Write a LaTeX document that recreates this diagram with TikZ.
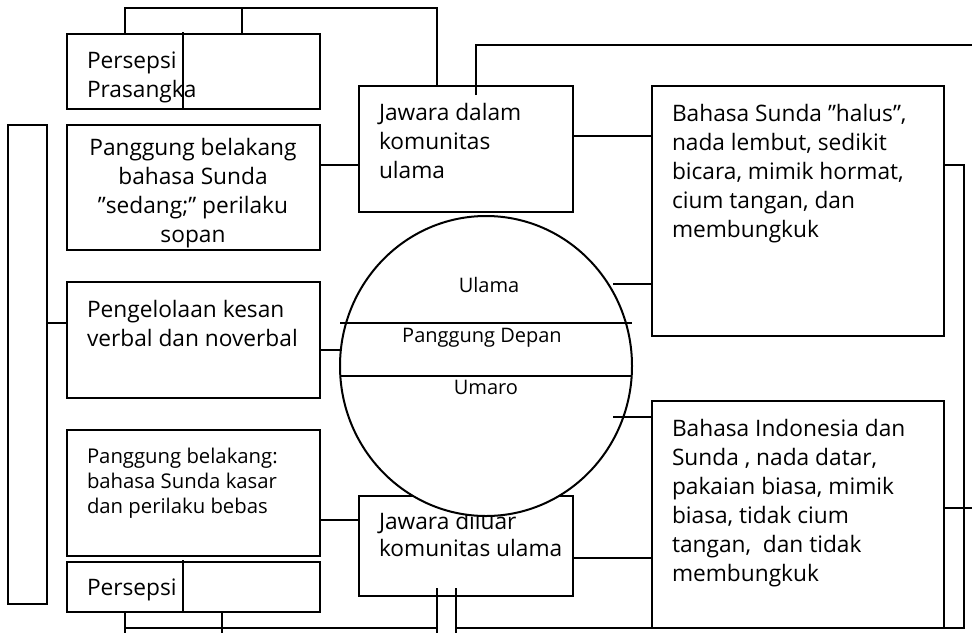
\documentclass[tikz,border=0pt]{standalone}
\usepackage{fontspec}
\setmainfont{Open Sans}
\usetikzlibrary{positioning, calc, shapes.geometric}
\tikzset{
  box/.style={draw, anchor=north west, inner sep=0pt, outer sep=0pt},
  txt/.style={anchor=north west, align=left, inner sep=0pt, font=\fontsize{22.7}{29}\selectfont},
  smalltxt/.style={anchor=north west, align=left, inner sep=0pt, font=\fontsize{20.3}{25}\selectfont},
  lbl/.style={anchor=base, inner sep=0pt, font=\fontsize{20}{24}\selectfont},
}

\begin{document}
\begin{tikzpicture}[x=1pt, y=-1pt, line width=2pt]
\useasboundingbox (0,0) rectangle (972,633);

% left column
\node[box, minimum width=39pt, minimum height=479pt] (frame) at (8,125) {};
\node[box, minimum width=253pt, minimum height=75pt] (persepsi1) at (67,34) {};
\node[box, minimum width=253pt, minimum height=125pt] (belakang1) at (67,125) {};
\node[box, minimum width=253pt, minimum height=116pt] (kesan) at (67,282) {};
\node[box, minimum width=253pt, minimum height=126pt] (belakang2) at (67,430) {};
\node[box, minimum width=253pt, minimum height=50pt] (persepsi2) at (67,562) {};

\node[txt] (persepsi1-t) at (86,51) {Persepsi\\Prasangka};
\node[txt, anchor=north, align=center] (belakang1-t) at (193,137) {Panggung belakang\\bahasa Sunda\\”sedang;” perilaku\\sopan};
\node[txt] (kesan-t) at (86,299) {Pengelolaan kesan\\verbal dan noverbal};
\node[smalltxt] (belakang2-t) at (86,447) {Panggung belakang:\\bahasa Sunda kasar\\dan perilaku bebas};
\node[txt] (persepsi2-t) at (86,578) {Persepsi};
\draw (183,32) -- (183,108);
\draw (183,560) -- (183,611);

% middle column
\node[box, minimum width=214pt, minimum height=126pt] (dalam) at (359,86) {};
\node[box, minimum width=214pt, minimum height=100pt] (luar) at (359,496) {};
\node[txt] (dalam-t) at (378,102) {Jawara dalam\\komunitas\\ulama};
\node[txt, font=\fontsize{22.7}{27.5}\selectfont] (luar-t) at (378,511) {Jawara diluar\\komunitas ulama};

% right column
\node[box, minimum width=292pt, minimum height=250pt] (halus) at (652,86) {};
\node[box, minimum width=292pt, minimum height=227pt] (indo) at (652,401) {};
\node[txt] (halus-t) at (671,103) {Bahasa Sunda ”halus”,\\nada lembut, sedikit\\bicara, mimik hormat,\\cium tangan, dan\\membungkuk};
\node[txt] (indo-t) at (671,418) {Bahasa Indonesia dan\\Sunda , nada datar,\\pakaian biasa, mimik\\biasa, tidak cium\\tangan,\ \ dan tidak\\membungkuk};

% stage
\node[ellipse, draw, fill=white, minimum width=292pt, minimum height=300pt, inner sep=0pt, outer sep=0pt] (stage) at (486,366) {};
\draw (stage.west |- 0,323) -- (stage.east |- 0,323);
\draw (stage.west |- 0,376) -- (stage.east |- 0,376);
\node[lbl] (ulama) at (489,292) {Ulama};
\node[lbl] (depan) at (482,342) {Panggung Depan};
\node[lbl] (umaro) at (486,394) {Umaro};

% connectors
\coordinate (topR) at (972,45);
\coordinate (midR) at (972,508);
\draw (125,0 |- persepsi1.north) -- (125,8) -- (437,8) -- (437,0 |- dalam.north);
\draw (242,0 |- persepsi1.north) -- (242,8);
\draw (476,95) -- (476,45) -- (topR);
\draw (belakang1.east |- 0,165) -- (dalam.west |- 0,165);
\draw (dalam.east |- 0,136) -- (halus.west |- 0,136);
\draw (613,284) -- (halus.west |- 0,284);
\draw (613,417) -- (indo.west |- 0,417);
\draw (frame.east |- 0,323) -- (kesan.west |- 0,323);
\draw (kesan.east |- 0,350) -- (stage.west |- 0,350);
\draw (belakang2.east |- 0,520) -- (luar.west |- 0,520);
\draw (luar.east |- 0,558) -- (indo.west |- 0,558);
\draw (halus.east |- 0,165) -| (964,628) -- (456,628);
\draw (indo.east |- 0,508) -- (midR);
\draw (456,588) -- (456,633);
\draw (437,588) -- (437,633);
\draw (437,628) -- (125,628);
\draw (125,0 |- persepsi2.south) -- (125,633);
\draw (222,0 |- persepsi2.south) -- (222,633);
\end{tikzpicture}
\end{document}
